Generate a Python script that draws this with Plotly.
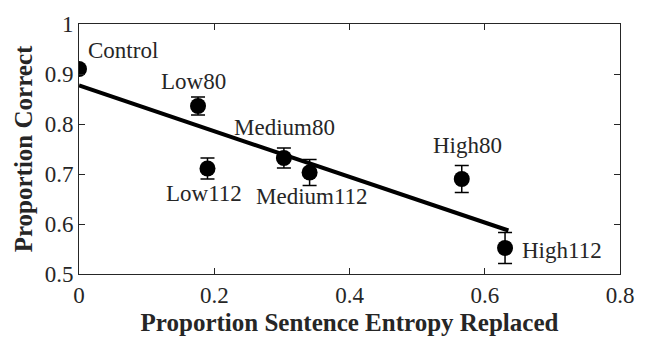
import plotly.graph_objects as go

# Data
conditions = ["Control", "Low80", "Low112", "Medium80", "Medium112", "High80", "High112"]
entropy_replaced = [0.0, 0.176, 0.190, 0.303, 0.341, 0.566, 0.630]
prop_correct = [0.910, 0.836, 0.711, 0.732, 0.703, 0.690, 0.552]
sem = [0.006, 0.018, 0.021, 0.020, 0.026, 0.027, 0.031]

fit_x = [0.0, 0.635]
fit_y = [0.877, 0.587]

x_ticks = [0, 0.2, 0.4, 0.6, 0.8]
x_ticklabels = ["0", "0.2", "0.4", "0.6", "0.8"]
y_ticks = [0.5, 0.6, 0.7, 0.8, 0.9, 1.0]
y_ticklabels = ["0.5", "0.6", "0.7", "0.8", "0.9", "1"]

# label placement (pixel offsets relative to each point)
label_style = {
    "Control":   dict(xanchor="left",   xshift=7,  yshift=19),
    "Low80":     dict(xanchor="center", xshift=-5, yshift=25),
    "Low112":    dict(xanchor="center", xshift=-3, yshift=-25),
    "Medium80":  dict(xanchor="center", xshift=1,  yshift=31),
    "Medium112": dict(xanchor="center", xshift=2,  yshift=-24),
    "High80":    dict(xanchor="center", xshift=6,  yshift=34),
    "High112":   dict(xanchor="left",   xshift=15, yshift=-2),
}

FONT = "Liberation Serif, Times New Roman, serif"
TXT = "#262626"

fig = go.Figure()
fig.add_trace(go.Scatter(
    x=fit_x, y=fit_y, mode="lines",
    line=dict(color="black", width=4), showlegend=False, hoverinfo="skip"))
fig.add_trace(go.Scatter(
    x=entropy_replaced, y=prop_correct, mode="markers",
    marker=dict(color="black", size=16, line=dict(width=0)),
    error_y=dict(type="data", array=sem, visible=True, color="black", thickness=1.5, width=7),
    showlegend=False))

for name, xv, yv in zip(conditions, entropy_replaced, prop_correct):
    st = label_style[name]
    fig.add_annotation(x=xv, y=yv, xref="x", yref="y", text=name, showarrow=False,
                       xanchor=st["xanchor"], yanchor="middle",
                       xshift=st["xshift"], yshift=st["yshift"],
                       font=dict(family=FONT, size=23, color=TXT))

axis_common = dict(showline=True, linecolor=TXT, linewidth=1, mirror="ticks",
                   ticks="inside", ticklen=6, tickcolor=TXT, showgrid=False, zeroline=False,
                   tickfont=dict(family=FONT, size=23, color=TXT))

fig.update_xaxes(range=[0, 0.8], tickvals=x_ticks, ticktext=x_ticklabels,
                 title=dict(text="<b>Proportion Sentence Entropy Replaced</b>",
                            font=dict(family=FONT, size=25, color=TXT), standoff=6),
                 **axis_common)
fig.update_yaxes(range=[0.5, 1.0], tickvals=y_ticks, ticktext=y_ticklabels,
                 title=dict(text="<b>Proportion Correct</b>",
                            font=dict(family=FONT, size=25, color=TXT), standoff=4),
                 **axis_common)

fig.update_layout(width=646, height=347, margin=dict(l=79, r=17, t=16, b=73),
                  plot_bgcolor="white", paper_bgcolor="white")

fig.write_html("out.html")
